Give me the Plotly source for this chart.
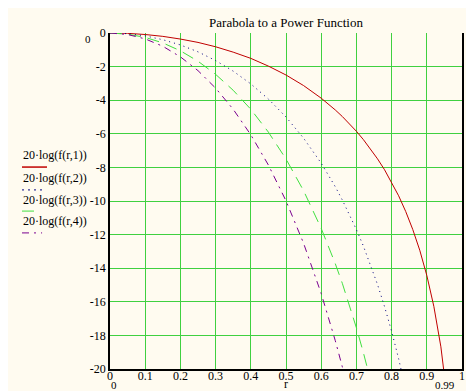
import plotly.graph_objects as go

# r sample points
r = [0, 0.05, 0.1, 0.15, 0.2, 0.25, 0.3, 0.35, 0.4, 0.45, 0.5, 0.55, 0.6,
     0.62, 0.64, 0.66, 0.68, 0.7, 0.72, 0.74, 0.76, 0.78, 0.8, 0.82, 0.84,
     0.86, 0.88, 0.9, 0.92, 0.94, 0.96]

# 20*log(f(r,n)) values
f1 = [0, -0.02, -0.09, -0.20, -0.36, -0.56, -0.82, -1.14, -1.51, -1.97, -2.50,
      -3.13, -3.88, -4.21, -4.58, -4.97, -5.39, -5.85, -6.35, -6.89, -7.49,
      -8.14, -8.87, -9.69, -10.62, -11.69, -12.93, -14.43, -16.27, -18.68, -22.11]
f2 = [0, -0.04, -0.17, -0.40, -0.71, -1.12, -1.64, -2.27, -3.03, -3.93, -5.00,
      -6.26, -7.75, -8.43, -9.15, -9.94, -10.78, -11.70, -12.69, -13.78, -14.97,
      -16.29, -17.75, -19.39, -21.24]
f3 = [0, -0.07, -0.26, -0.59, -1.06, -1.68, -2.46, -3.41, -4.54, -5.90, -7.50,
      -9.39, -11.63, -12.64, -13.73, -14.90, -16.17, -17.55, -19.04, -20.67]
f4 = [0, -0.09, -0.35, -0.79, -1.42, -2.24, -3.28, -4.54, -6.06, -7.86, -9.99,
      -12.52, -15.51, -16.86, -18.31, -19.87, -21.56]

names = ["20·log(f(r,1))", "20·log(f(r,2))", "20·log(f(r,3))", "20·log(f(r,4))"]

x_ticks = [0, 0.1, 0.2, 0.3, 0.4, 0.5, 0.6, 0.7, 0.8, 0.9, 1]
x_labels = ["0", "0.1", "0.2", "0.3", "0.4", "0.5", "0.6", "0.7", "0.8", "0.9", "1"]
y_ticks = [0, -2, -4, -6, -8, -10, -12, -14, -16, -18, -20]
y_labels = ["0", "-2", "-4", "-6", "-8", "-10", "-12", "-14", "-16", "-18", "-20"]

series = [f1, f2, f3, f4]
colors = ["#c00000", "#000080", "#40e040", "#7a0090"]
dashes = ["solid", "1px,4px", "12px,7px", "7px,5px,2px,5px"]

BG = "#fffbf0"
FONT = "Liberation Serif"

fig = go.Figure()
for vals, c, d, n in zip(series, colors, dashes, names):
    fig.add_trace(go.Scatter(x=r[:len(vals)], y=vals, mode="lines", name=n,
                             line=dict(color=c, width=1, dash=d),
                             showlegend=False))

# legend (Mathcad style: text above line sample)
leg_text_y = [0.637, 0.568, 0.503, 0.440]
leg_line_y = [0.601, 0.533, 0.470, 0.405]
leg_line_x1 = [-0.179, -0.193, -0.202, -0.193]
for n, c, d, ty, ly, x1 in zip(names, colors, dashes, leg_text_y, leg_line_y, leg_line_x1):
    fig.add_annotation(x=-0.252, y=ty, xref="paper", yref="paper", text=n,
                       showarrow=False, xanchor="left", yanchor="middle",
                       font=dict(family=FONT, size=12, color="black"))
    fig.add_shape(type="line", xref="paper", yref="paper", x0=-0.250, x1=x1,
                  y0=ly, y1=ly, line=dict(color=c, width=1.5 if d == "solid" else 1,
                                          dash=d if d != "1px,4px" else "2px,4px"))

# corner range labels and axis title
fig.add_annotation(x=-0.077, y=1.006, xref="paper", yref="paper", text="0",
                   showarrow=False, font=dict(family=FONT, size=11, color="black"))
fig.add_annotation(x=-0.003, y=-0.072, xref="paper", yref="paper", text="0",
                   showarrow=False, font=dict(family=FONT, size=11, color="black"))
fig.add_annotation(x=0.985, y=-0.072, xref="paper", yref="paper", text="0.99",
                   showarrow=False, font=dict(family=FONT, size=11, color="black"))
fig.add_annotation(x=0.5, y=-0.072, xref="paper", yref="paper", text="r",
                   showarrow=False, font=dict(family=FONT, size=12, color="black"))

fig.update_layout(
    width=474, height=391,
    margin=dict(l=102, r=20, t=25, b=30),
    paper_bgcolor=BG, plot_bgcolor=BG,
    font=dict(family=FONT, size=12, color="black"),
    title=dict(text="Parabola to a Power Function", x=0.5, xref="paper",
               y=1 - 14 / 391, yanchor="middle", xanchor="center",
               font=dict(family=FONT, size=13, color="black")),
    xaxis=dict(range=[0, 1], tickvals=x_ticks, ticktext=x_labels,
               showgrid=True, gridcolor="#40d040", gridwidth=1,
               showline=True, linecolor="black", linewidth=1.5, mirror=False,
               zeroline=False, ticks="", ticklen=0, ticklabelstandoff=-5),
    yaxis=dict(range=[-20, 0], tickvals=y_ticks, ticktext=y_labels,
               showgrid=True, gridcolor="#40d040", gridwidth=1,
               showline=True, linecolor="black", linewidth=1.5, mirror=True,
               zeroline=False, ticks="", ticklen=0),
)

fig.write_html("out.html")
